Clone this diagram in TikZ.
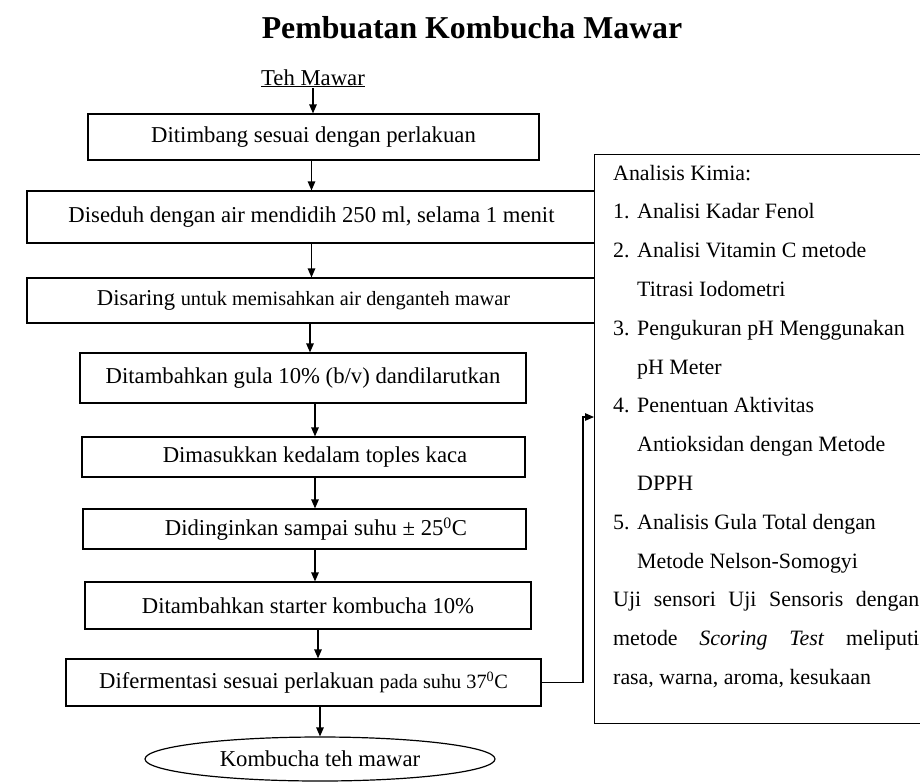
\documentclass[tikz,border=0pt]{standalone}
\usepackage{fontspec}
\setmainfont{Liberation Serif}
\usetikzlibrary{arrows.meta,shapes.geometric}
\newcommand\smtx{\fontsize{20.3pt}{24pt}\selectfont}
\begin{document}
\begin{tikzpicture}[x=1pt,y=-1pt,
  txt/.style={font=\fontsize{22.7pt}{27pt}\selectfont},
  box/.style={txt, draw, line width=1.2pt, inner sep=0pt},
  arr/.style={line width=1.2pt, -{Triangle[length=9pt,width=7.5pt]}},
  ln/.style={line width=1.2pt}]
\useasboundingbox (0,0) rectangle (920,782);
\clip (0,0) rectangle (920,782);

\node[font=\fontsize{31.8pt}{36pt}\selectfont\bfseries, anchor=base] (title) at (472,38) {Pembuatan Kombucha Mawar};
\node[txt, anchor=base, inner sep=1pt] (teh) at (313,85) {\underline{Teh Mawar}};

\node[box, minimum width=451pt, minimum height=46pt] (b1) at (313.5,137) {Ditimbang sesuai dengan perlakuan};
\node[box, minimum width=569pt, minimum height=52pt] (b2) at (311.5,217) {Diseduh dengan air mendidih 250 ml, selama 1 menit};
\node[box, minimum width=569pt, minimum height=45pt] (b3) at (311.5,300.5) {Disaring {\smtx untuk memisahkan air denganteh mawar}\hspace*{16pt}};
\node[box, minimum width=446pt, minimum height=50pt] (b4) at (303,378) {Ditambahkan gula 10\% (b/v) dandilarutkan};
\node[box, minimum width=443pt, minimum height=40pt] (b5) at (303.5,457) {\hspace*{23pt}Dimasukkan kedalam toples kaca};
\node[box, minimum width=443pt, minimum height=40pt] (b6) at (304.5,529) {\hspace*{23pt}Didinginkan sampai suhu ± 25\textsuperscript{0}C};
\node[box, minimum width=446pt, minimum height=47pt] (b7) at (308,605.5) {Ditambahkan starter kombucha 10\%};
\node[box, minimum width=475pt, minimum height=47pt] (b8) at (303.5,682.5) {Difermentasi sesuai perlakuan {\smtx pada suhu 37\textsuperscript{0}C}};
\node[box, ellipse, minimum width=350pt, minimum height=44pt] (e) at (320,759) {Kombucha teh mawar};

\node[draw, fill=white, line width=1.2pt, anchor=north west, minimum width=360pt, minimum height=569pt, inner sep=0pt] (ana) at (594,154) {};
\node[font=\fontsize{21.9pt}{26pt}\selectfont, anchor=base west, inner sep=0pt] (anat) at (613,180) {\parbox[t]{306pt}{\baselineskip=38.8pt
Analisis Kimia:\\
\makebox[24pt][l]{1.}Analisi Kadar Fenol\\
\makebox[24pt][l]{2.}Analisi Vitamin C metode\\
\hspace*{24pt}Titrasi Iodometri\\
\makebox[24pt][l]{3.}Pengukuran pH Menggunakan\\
\hspace*{24pt}pH Meter\\
\makebox[24pt][l]{4.}Penentuan Aktivitas\\
\hspace*{24pt}Antioksidan dengan Metode\\
\hspace*{24pt}DPPH\\
\makebox[24pt][l]{5.}Analisis Gula Total dengan\\
\hspace*{24pt}Metode Nelson-Somogyi\\
\makebox[306pt][s]{Uji sensori Uji Sensoris dengan}\\
\makebox[306pt][s]{metode \textit{Scoring Test} meliputi}\\
rasa, warna, aroma, kesukaan}};

\draw[arr] (teh.south) -- (teh.south |- b1.north);
\draw[arr] (b2.north |- b1.south) -- (b2.north);
\draw[arr] (b2.south) -- (b3.north);
\draw[arr] ([xshift=-1.5pt]b3.south) -- ([xshift=-1.5pt]b3.south |- b4.north);
\draw[arr] ([xshift=12pt]b4.south) -- ([xshift=12pt]b4.south |- b5.north);
\draw[arr] ([xshift=11.5pt]b5.south) -- ([xshift=11.5pt]b5.south |- b6.north);
\draw[arr] ([xshift=10.5pt]b6.south) -- ([xshift=10.5pt]b6.south |- b7.north);
\draw[arr] ([xshift=10pt]b7.south) -- ([xshift=10pt]b7.south |- b8.north);
\draw[arr] (e.north |- b8.south) -- (e.north);

\coordinate (c1) at (583,417);
\draw[arr] (b8.east) -| (c1) -- (c1 -| ana.west);
\end{tikzpicture}
\end{document}
